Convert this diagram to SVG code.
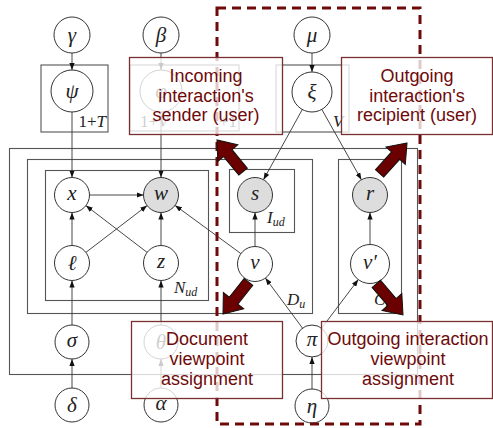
<svg xmlns="http://www.w3.org/2000/svg" width="493" height="428" viewBox="0 0 493 428">
  <style>
    .plate { fill: none; stroke: #555; stroke-width: 1.1; }
    .node circle { fill: #fff; stroke: #333; stroke-width: 1; }
    .node.obs circle { fill: #ddd; }
    .sym { font-family: "Liberation Serif", "DejaVu Serif", serif; font-style: italic; font-size: 21px; fill: #222; text-anchor: middle; dominant-baseline: central; }
    .plab { font-family: "Liberation Serif", "DejaVu Serif", serif; font-size: 17px; fill: #222; }
    .plab .it { font-style: italic; }
    .sub { font-size: 12px; font-style: italic; }
    .edges line { stroke: #333; stroke-width: 0.9; marker-end: url(#tip); }
    .callout rect { fill: #fff; fill-opacity: 0.78; stroke: #7a3030; stroke-width: 1.3; }
    .callout text { font-family: "Liberation Sans", Arial, sans-serif; font-size: 18px; fill: #6e0a0a; text-anchor: middle; }
    .bigarrow { fill: #6b0000; stroke: #111; stroke-width: 1; }
  </style>
  <defs>
    <marker id="tip" viewBox="0 0 8 6" refX="8" refY="3" markerWidth="7" markerHeight="5.5" markerUnits="userSpaceOnUse" orient="auto">
      <path d="M0,0 L8,3 L0,6 z" fill="#111"/>
    </marker>
    <path id="blockArrow" d="M0,0 L-17,-13 L-17,-5.5 L-41,-5.5 L-41,5.5 L-17,5.5 L-17,13 z"/>
  </defs>

  <rect width="493" height="428" fill="#fff"/>

  <!-- plates -->
  <g id="plates">
    <rect class="plate" x="41" y="65" width="67" height="67"/>
    <text class="plab" x="106" y="127" text-anchor="end">1+<tspan class="it">T</tspan></text>
    <rect class="plate" x="130" y="65" width="109" height="66"/>
    <text class="plab" x="140" y="127">1+<tspan class="it">V</tspan></text>
    <text class="plab" x="237" y="127" text-anchor="end">+1</text>
    <rect class="plate" x="276" y="65" width="73" height="67"/>
    <text class="plab" x="333" y="127"><tspan class="it">V</tspan></text>
    <rect class="plate" x="9.5" y="148.5" width="408" height="226"/>
    <rect class="plate" x="27.5" y="159.5" width="285" height="154"/>
    <text class="plab" x="287" y="305"><tspan class="it">D</tspan><tspan class="sub" dy="3">u</tspan></text>
    <rect class="plate" x="45.5" y="170.5" width="163" height="130"/>
    <text class="plab" x="174" y="293"><tspan class="it">N</tspan><tspan class="sub" dy="3">ud</tspan></text>
    <rect class="plate" x="229.5" y="169.5" width="65" height="63"/>
    <text class="plab" x="267" y="223"><tspan class="it">I</tspan><tspan class="sub" dy="3">ud</tspan></text>
    <rect class="plate" x="338.5" y="159.5" width="63" height="154"/>
    <text class="plab" x="374" y="305"><tspan class="it">C</tspan><tspan class="sub" dy="3">u</tspan></text>
  </g>

  <!-- connectors -->
  <g id="edges" class="edges">
    <line x1="72" y1="53" x2="72" y2="70"/>
    <line x1="161" y1="53" x2="161" y2="70"/>
    <line x1="312" y1="53" x2="312" y2="72"/>
    <line x1="72" y1="112" x2="72" y2="177.5"/>
    <line x1="161" y1="112" x2="161" y2="177.5"/>
    <line x1="302.3" y1="109.5" x2="263.5" y2="179.7"/>
    <line x1="321.8" y1="109.4" x2="361.4" y2="179.8"/>
    <line x1="89.5" y1="195" x2="143.5" y2="195"/>
    <line x1="72" y1="245.5" x2="72" y2="212.5"/>
    <line x1="85.9" y1="252.4" x2="147.1" y2="205.6"/>
    <line x1="147.1" y1="252.4" x2="85.9" y2="205.6"/>
    <line x1="161" y1="245.5" x2="161" y2="212.5"/>
    <line x1="240.9" y1="253.6" x2="175.1" y2="205.4"/>
    <line x1="255" y1="246.5" x2="255" y2="212.5"/>
    <line x1="302.5" y1="328.1" x2="265.4" y2="278.1"/>
    <line x1="321.6" y1="328.2" x2="358.3" y2="279.6"/>
    <line x1="370" y1="244.5" x2="370" y2="212.5"/>
    <line x1="72" y1="325" x2="72" y2="280.5"/>
    <line x1="161" y1="325" x2="161" y2="280.5"/>
    <line x1="72" y1="388" x2="72" y2="359"/>
    <line x1="161" y1="388" x2="161" y2="359"/>
    <line x1="312" y1="389" x2="312" y2="357"/>
  </g>

  <!-- nodes -->
  <g id="gamma" class="node"><circle cx="72" cy="35" r="18"/><text class="sym" x="72" y="35">γ</text></g>
  <g id="beta" class="node"><circle cx="161" cy="35" r="18"/><text class="sym" x="161" y="35">β</text></g>
  <g id="mu" class="node"><circle cx="312" cy="35" r="18"/><text class="sym" x="312" y="35">μ</text></g>
  <g id="psi" class="node"><circle cx="72" cy="91" r="21"/><text class="sym" x="72" y="91">ψ</text></g>
  <g id="phi" class="node"><circle cx="161" cy="91" r="21"/><text class="sym" x="161" y="91">φ</text></g>
  <g id="xi" class="node"><circle cx="312" cy="92" r="20"/><text class="sym" x="312" y="92">ξ</text></g>
  <g id="x" class="node"><circle cx="72" cy="195" r="17.5"/><text class="sym" x="72" y="193">x</text></g>
  <g id="w" class="node obs"><circle cx="161" cy="195" r="17.5"/><text class="sym" x="161" y="193">w</text></g>
  <g id="s" class="node obs"><circle cx="255" cy="195" r="17.5"/><text class="sym" x="255" y="193">s</text></g>
  <g id="r" class="node obs"><circle cx="370" cy="195" r="17.5"/><text class="sym" x="370" y="193">r</text></g>
  <g id="l" class="node"><circle cx="72" cy="263" r="17.5"/><text class="sym" x="72" y="263">ℓ</text></g>
  <g id="z" class="node"><circle cx="161" cy="263" r="17.5"/><text class="sym" x="161" y="261">z</text></g>
  <g id="v" class="node"><circle cx="255" cy="264" r="17.5"/><text class="sym" x="255" y="262">v</text></g>
  <g id="vprime" class="node"><circle cx="370" cy="264" r="19.5"/><text class="sym" x="370" y="262">v′</text></g>
  <g id="sigma" class="node"><circle cx="72" cy="342" r="17"/><text class="sym" x="72" y="340">σ</text></g>
  <g id="theta" class="node"><circle cx="161" cy="342" r="17"/><text class="sym" x="161" y="342">θ</text></g>
  <g id="pi" class="node"><circle cx="312" cy="341" r="16"/><text class="sym" x="312" y="339">π</text></g>
  <g id="delta" class="node"><circle cx="72" cy="405" r="17"/><text class="sym" x="72" y="405">δ</text></g>
  <g id="alpha" class="node"><circle cx="161" cy="405" r="17"/><text class="sym" x="161" y="403">α</text></g>
  <g id="eta" class="node"><circle cx="312" cy="406" r="17"/><text class="sym" x="312" y="406">η</text></g>

  <!-- highlighted user-related region -->
  <rect id="region" x="217" y="8" width="203" height="416" fill="none" stroke="#6e0a0a" stroke-width="3" stroke-dasharray="9 6"/>

  <!-- pointer arrows -->
  <g id="pointers" class="bigarrow">
    <use href="#blockArrow" transform="translate(217,140) rotate(-129.5)"/>
    <use href="#blockArrow" transform="translate(407,143) rotate(-48)"/>
    <use href="#blockArrow" transform="translate(223,314) rotate(128.4)"/>
    <use href="#blockArrow" transform="translate(403,315) rotate(49.4)"/>
  </g>

  <!-- callouts -->
  <g id="callout-sender" class="callout">
    <rect x="129.5" y="57.5" width="153" height="77"/>
    <text x="206" y="82">Incoming</text>
    <text x="206" y="102">interaction's</text>
    <text x="206" y="121">sender (user)</text>
  </g>
  <g id="callout-recipient" class="callout">
    <rect x="341.5" y="57.5" width="151" height="77"/>
    <text x="417" y="82">Outgoing</text>
    <text x="417" y="102">interaction's</text>
    <text x="417" y="121">recipient (user)</text>
  </g>
  <g id="callout-document" class="callout">
    <rect x="131.5" y="321.5" width="151" height="77"/>
    <text x="207" y="345">Document</text>
    <text x="207" y="365">viewpoint</text>
    <text x="207" y="385">assignment</text>
  </g>
  <g id="callout-outgoing" class="callout">
    <rect x="321.5" y="321.5" width="171" height="77"/>
    <text x="408" y="345">Outgoing interaction</text>
    <text x="408" y="365">viewpoint</text>
    <text x="408" y="385">assignment</text>
  </g>
</svg>
